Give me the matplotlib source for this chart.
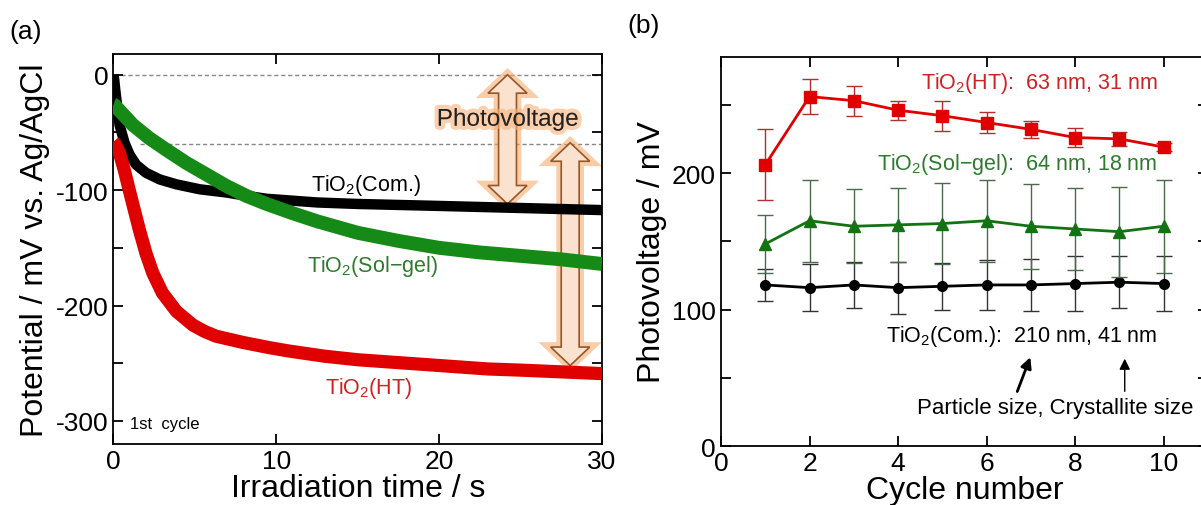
import numpy as np
import matplotlib
matplotlib.use('Agg')
import matplotlib.pyplot as plt
import matplotlib.patheffects as pe
from matplotlib.patches import Polygon
from matplotlib.ticker import MultipleLocator

plt.rcParams['font.family'] = ['Liberation Sans', 'DejaVu Sans']
plt.rcParams['mathtext.fontset'] = 'custom'
plt.rcParams['mathtext.rm'] = 'Liberation Sans'
plt.rcParams['mathtext.it'] = 'Liberation Sans'
plt.rcParams['axes.unicode_minus'] = False

# (a) potential vs irradiation time, 1st cycle
t_com = [0, 0.05, 0.1, 0.15, 0.2, 0.25, 0.37, 0.68, 0.98, 1.39, 2.0, 2.83, 3.86, 5.3, 6.9, 8.2,
         9.4, 12.5, 15, 19.7, 25, 30]
v_com = [0, -5, -12, -18, -24, -30, -43.5, -59, -69, -78, -85, -90.7, -95, -99.3, -102, -105,
         -107.5, -110.7, -112, -113.6, -115.5, -117.3]

t_sol = [0, 0.06, 1.19, 2.2, 3.24, 4.47, 5.7, 6.93, 8.16, 9.4, 11, 12.5, 15, 17.5, 20, 22.5,
         25, 27.5, 30]
v_sol = [-26, -26.3, -43.5, -55, -65, -76.4, -86.4, -96.4, -105, -112, -120, -127, -137, -144,
         -150, -154, -157, -160, -164]

t_ht = [0, 0.06, 0.37, 0.68, 0.98, 1.29, 1.6, 2.0, 2.42, 3.0, 3.86, 4.88, 5.6, 6.3, 7.95, 9.6,
        10.8, 13, 15, 17, 19, 21, 23, 25, 27.5, 30]
v_ht = [-58, -59, -68, -83.5, -100.7, -117.9, -135, -155, -172, -189, -205, -217, -222.5, -226.6,
        -232, -236.6, -239.5, -244, -247, -249, -251, -253, -255, -256, -257.5, -259]

# (b) photovoltage vs cycle number
cycles = [1, 2, 3, 4, 5, 6, 7, 8, 9, 10]
pv_ht = [206, 256, 253, 246, 242, 237, 232, 226, 225, 219]
err_ht = [26, 13, 11, 7, 11, 8, 6, 7, 5, 3]
pv_sol = [148, 165, 161, 162, 163, 165, 161, 159, 157, 161]
err_sol = [21, 30, 27, 27, 30, 30, 31, 30, 33, 34]
pv_com = [118, 116, 118, 116, 117, 118, 118, 119, 120, 119]
err_com = [12, 17, 17, 19, 17, 18, 19, 20, 19, 20]

RED = '#e00000'
RED_TXT = '#cc2222'
GREEN = '#168a16'
GREEN_TXT = '#2e7a2e'

fig = plt.figure(figsize=(12.01, 5.06), dpi=100)


def style_axes(ax):
    ax.tick_params(which='both', direction='in', top=True, right=True,
                   width=1.3, length=7, labelsize=19)
    for s in ax.spines.values():
        s.set_linewidth(1.3)


def double_arrow(ax, xc, ytop, ybot, shaft=0.55, head=1.2, hlen=16):
    pts = [(xc, ytop), (xc + head, ytop - hlen), (xc + shaft, ytop - hlen),
           (xc + shaft, ybot + hlen), (xc + head, ybot + hlen), (xc, ybot),
           (xc - head, ybot + hlen), (xc - shaft, ybot + hlen),
           (xc - shaft, ytop - hlen), (xc - head, ytop - hlen)]
    p = Polygon(pts, closed=True, facecolor='#fbe2cf', edgecolor='#94572a',
                lw=1.2, zorder=1.5)
    p.set_path_effects([pe.Stroke(linewidth=7, foreground='#f6a561', alpha=0.55),
                        pe.Normal()])
    ax.add_patch(p)


# ---------------- panel (a)
ax1 = fig.add_axes([0.0945, 0.1206, 0.4067, 0.7708])
style_axes(ax1)
ax1.axhline(0, xmin=0.015, color='#888888', lw=1, ls=(0, (3, 2)), zorder=1)
ax1.axhline(-60, xmin=0.055, color='#888888', lw=1, ls=(0, (3, 2)), zorder=1)

double_arrow(ax1, 24.2, 0, -112)
double_arrow(ax1, 28.05, -59, -252)

ax1.plot(t_com, v_com, color='black', lw=7.5, solid_capstyle='butt', solid_joinstyle='round', zorder=3)
ax1.plot(t_sol, v_sol, color=GREEN, lw=10, solid_capstyle='butt', solid_joinstyle='round', zorder=4)
ax1.plot(t_ht, v_ht, color=RED, lw=9.5, solid_capstyle='butt', solid_joinstyle='round', zorder=5)

ax1.text(24.2, -39, 'Photovoltage', fontsize=17.5, color='#222222', ha='center', va='center',
         zorder=6, path_effects=[pe.withStroke(linewidth=6, foreground='#f9b27a', alpha=0.6)])
ax1.text(15.5, -95, r'TiO$_2$(Com.)', fontsize=15.5, color='black', ha='center', va='center')
ax1.text(15.9, -165, 'TiO$_2$(Sol\u2212gel)', fontsize=15.5, color=GREEN_TXT, ha='center', va='center')
ax1.text(15.7, -271, r'TiO$_2$(HT)', fontsize=15.5, color=RED_TXT, ha='center', va='center')
ax1.text(1.0, -302, '1st  cycle', fontsize=12, ha='left', va='center')

ax1.set_xlim(0, 30)
ax1.set_ylim(-320, 18)
ax1.xaxis.set_major_locator(MultipleLocator(10))
ax1.yaxis.set_major_locator(MultipleLocator(100))
ax1.yaxis.set_minor_locator(MultipleLocator(50))
ax1.set_xlabel('Irradiation time / s', fontsize=23, labelpad=0)
ax1.set_ylabel('Potential / mV vs. Ag/AgCl', fontsize=23, labelpad=4)

# ---------------- panel (b)
ax2 = fig.add_axes([0.6003, 0.1166, 0.4055, 0.7688])
style_axes(ax2)
ax2.errorbar(cycles, pv_com, yerr=err_com, color='black', lw=2, marker='o', ms=7,
             ecolor='#333333', elinewidth=1, capsize=6, capthick=1, zorder=3)
ax2.errorbar(cycles, pv_sol, yerr=err_sol, color='#137313', lw=2, marker='^', ms=9,
             ecolor='#4a6a4a', elinewidth=1, capsize=6, capthick=1, zorder=4)
ax2.errorbar(cycles, pv_ht, yerr=err_ht, color=RED, lw=2, marker='s', ms=8.5,
             ecolor='#b03030', elinewidth=1, capsize=6, capthick=1, zorder=5)

ax2.text(9.86, 266, 'TiO$_2$(HT):  63 nm, 31 nm', fontsize=15.5, color=RED_TXT, ha='right', va='center')
ax2.text(9.86, 207, 'TiO$_2$(Sol\u2212gel):  64 nm, 18 nm', fontsize=15.5, color=GREEN_TXT, ha='right', va='center')
ax2.text(9.86, 81, 'TiO$_2$(Com.):  210 nm, 41 nm', fontsize=15.5, color='black', ha='right', va='center')
ax2.text(4.42, 28, 'Particle size, Crystallite size', fontsize=16, ha='left', va='center')
ax2.annotate('', xy=(7.01, 67), xytext=(6.67, 38),
             arrowprops=dict(arrowstyle='-|>', color='black', lw=2, mutation_scale=16))
ax2.annotate('', xy=(9.12, 66), xytext=(9.12, 38),
             arrowprops=dict(arrowstyle='-|>', color='black', lw=1, mutation_scale=16))

ax2.set_xlim(0, 11)
ax2.set_ylim(0, 285)
ax2.set_xticks([0, 2, 4, 6, 8, 10])
ax2.yaxis.set_major_locator(MultipleLocator(100))
ax2.yaxis.set_minor_locator(MultipleLocator(50))
ax2.set_xlabel('Cycle number', fontsize=23, labelpad=0)
ax2.set_ylabel('Photovoltage / mV', fontsize=23, labelpad=4)

fig.text(0.008, 1 - 32 / 506, '(a)', fontsize=19, va='center', ha='left')
fig.text(0.522, 1 - 26 / 506, '(b)', fontsize=19, va='center', ha='left')

fig.savefig('out.png', dpi=100)
